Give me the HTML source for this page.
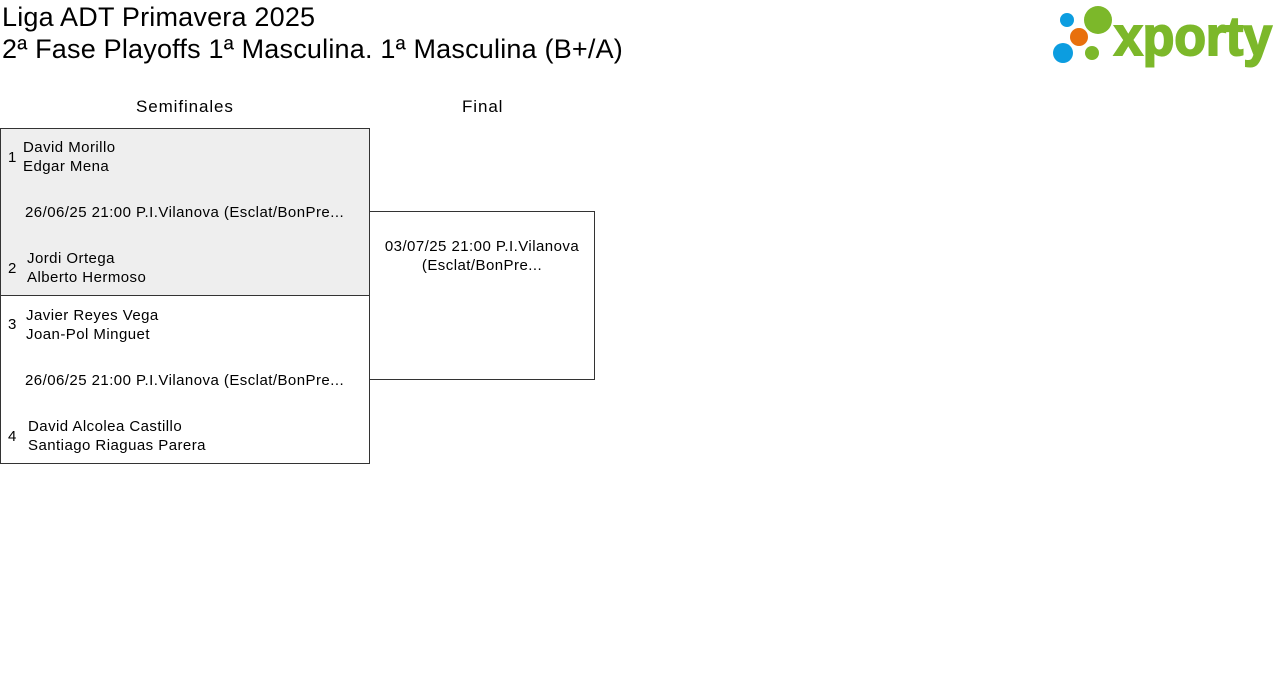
<!DOCTYPE html>
<html><head><style>
body{margin:0;width:1280px;height:694px;background:#fff;font-family:"Liberation Sans",sans-serif;color:#000;position:relative;overflow:hidden}
.a{position:absolute;white-space:nowrap}
.t{font-size:27px;left:2px;letter-spacing:0.2px}
.s{font-size:15px;letter-spacing:0.45px}
.h{font-size:17px;letter-spacing:0.9px;font-weight:500}
.box{position:absolute;border:1px solid #333;box-sizing:border-box}
</style></head><body>
<div class="a t" style="top:2px">Liga ADT Primavera 2025</div>
<div class="a t" style="top:34px">2ª Fase Playoffs 1ª Masculina. 1ª Masculina (B+/A)</div>
<svg class="a" style="left:1040px;top:0" width="240" height="75">
<circle cx="27" cy="20" r="7" fill="#0c9de0"/>
<circle cx="58" cy="20" r="14" fill="#7cb82a"/>
<circle cx="39" cy="37" r="9" fill="#e8700d"/>
<circle cx="23" cy="53" r="10" fill="#0c9de0"/>
<circle cx="52" cy="53" r="7" fill="#7cb82a"/>
<text x="74" y="55" font-family="Liberation Sans,sans-serif" font-weight="bold" font-size="55" fill="#7cb82a" stroke="#7cb82a" stroke-width="2" textLength="158" lengthAdjust="spacingAndGlyphs">xporty</text>
</svg>
<div class="a h" style="left:136px;top:97px">Semifinales</div>
<div class="a h" style="left:462px;top:97px">Final</div>
<div class="box" style="left:0;top:128px;width:370px;height:168px;background:#eee"></div>
<div class="box" style="left:0;top:295px;width:370px;height:169px"></div>
<div class="box" style="left:369px;top:211px;width:226px;height:169px"></div>
<div class="a s" style="left:8px;top:149px">1</div>
<div class="a s" style="left:23px;top:139px">David Morillo</div>
<div class="a s" style="left:23px;top:158px">Edgar Mena</div>
<div class="a s" style="left:25px;top:204px">26/06/25 21:00 P.I.Vilanova (Esclat/BonPre...</div>
<div class="a s" style="left:8px;top:260px">2</div>
<div class="a s" style="left:27px;top:250px">Jordi Ortega</div>
<div class="a s" style="left:27px;top:269px">Alberto Hermoso</div>
<div class="a s" style="left:8px;top:316px">3</div>
<div class="a s" style="left:26px;top:307px">Javier Reyes Vega</div>
<div class="a s" style="left:26px;top:326px">Joan-Pol Minguet</div>
<div class="a s" style="left:25px;top:372px">26/06/25 21:00 P.I.Vilanova (Esclat/BonPre...</div>
<div class="a s" style="left:8px;top:428px">4</div>
<div class="a s" style="left:28px;top:418px">David Alcolea Castillo</div>
<div class="a s" style="left:28px;top:437px">Santiago Riaguas Parera</div>
<div class="a s" style="left:370px;top:237px;width:224px;text-align:center;white-space:normal;line-height:19px">03/07/25 21:00 P.I.Vilanova (Esclat/BonPre...</div>
</body></html>
